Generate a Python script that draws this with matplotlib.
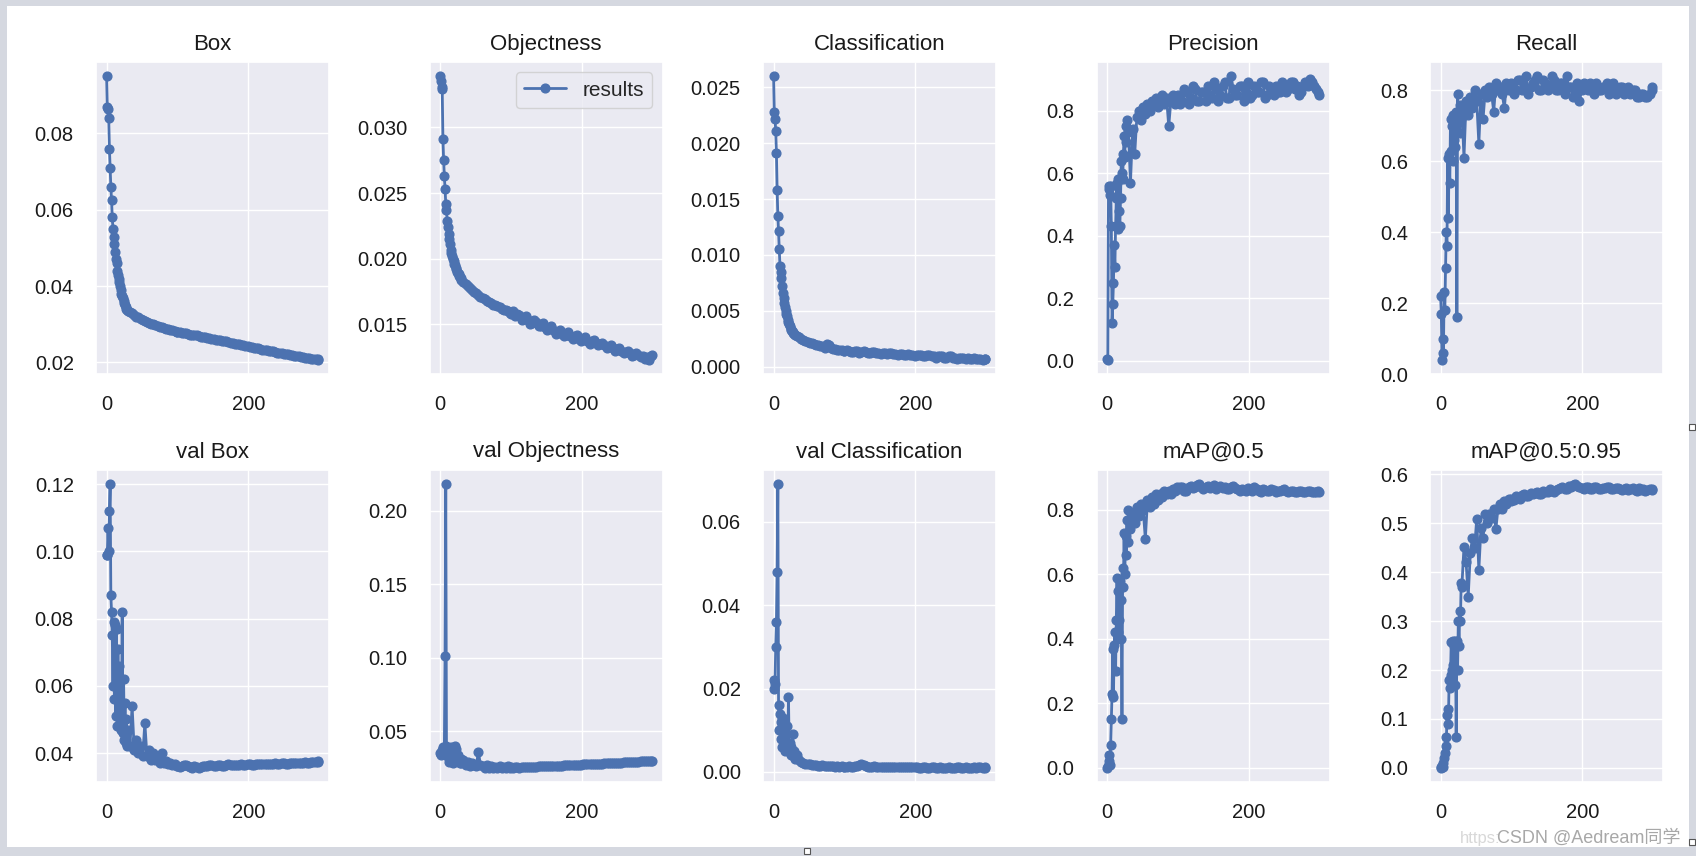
import matplotlib.pyplot as plt
import seaborn as sns
from matplotlib.patches import Rectangle

# --- settings ---
sns.set_theme(style='darkgrid')
plt.rcParams['font.family'] = ['Liberation Sans', 'DejaVu Sans']

W, H = 1696, 856
BLUE = '#4c72b0'

# --- data ---
epoch = [0, 1, 2, 3, 4, 5, 6, 7, 8, 9,
         10, 11, 12, 13, 14, 15, 16, 17, 18, 19,
         20, 21, 22, 23, 24, 25, 26, 27, 28, 29,
         30, 33, 36, 39, 42, 45, 48, 51, 54, 57,
         60, 63, 66, 69, 72, 75, 78, 81, 84, 87,
         90, 93, 96, 99,
         100, 103, 106, 109, 112, 115, 118, 121, 124, 127,
         130, 133, 136, 139, 142, 145, 148, 151, 154, 157,
         160, 163, 166, 169, 172, 175, 178, 181, 184, 187,
         190, 193, 196, 199, 202, 205, 208, 211, 214, 217,
         220, 223, 226, 229, 232, 235, 238, 241, 244, 247,
         250, 253, 256, 259, 262, 265, 268, 271, 274, 277,
         280, 283, 286, 289, 292, 295, 298, 299]

box = [0.095, 0.087, 0.0865, 0.084, 0.076, 0.071, 0.066, 0.0625, 0.058, 0.055,
       0.053, 0.051, 0.049, 0.047, 0.046, 0.044, 0.043, 0.042, 0.041, 0.040,
       0.039, 0.038, 0.0375, 0.037, 0.0362, 0.0355, 0.035, 0.0345, 0.034, 0.0337,
       0.0335, 0.0332, 0.033, 0.0325, 0.032, 0.0318, 0.0315, 0.031, 0.0308, 0.0306,
       0.0304, 0.0302, 0.030, 0.0298, 0.0296, 0.0294, 0.0292, 0.029, 0.0289, 0.0287,
       0.0285, 0.0284, 0.0282, 0.028,
       0.0280, 0.0281, 0.0278, 0.0276, 0.0276, 0.0275, 0.0273, 0.0273, 0.0271, 0.0271,
       0.0269, 0.0268, 0.0267, 0.0266, 0.0264, 0.0264, 0.0262, 0.0262, 0.0260, 0.0259,
       0.0258, 0.0257, 0.0255, 0.0255, 0.0253, 0.0252, 0.0251, 0.0249, 0.0248, 0.0248,
       0.0246, 0.0245, 0.0244, 0.0243, 0.0241, 0.0241, 0.0239, 0.0238, 0.0237, 0.0235,
       0.0234, 0.0234, 0.0232, 0.0231, 0.0230, 0.0229, 0.0228, 0.0226, 0.0225, 0.0225,
       0.0223, 0.0222, 0.0221, 0.0220, 0.0219, 0.0218, 0.0217, 0.0216, 0.0215, 0.0214,
       0.0213, 0.0212, 0.0211, 0.0210, 0.0209, 0.0209, 0.0208, 0.0207]

objectness = [0.0339, 0.0335, 0.0331, 0.0329, 0.0291, 0.0275, 0.0263, 0.0253, 0.0242, 0.0237,
              0.0229, 0.0224, 0.0219, 0.0215, 0.0211, 0.0207, 0.0204, 0.0202, 0.0200, 0.0198,
              0.0196, 0.0195, 0.0193, 0.0192, 0.0190, 0.0189, 0.0188, 0.0187, 0.0186, 0.0185,
              0.0184, 0.0182, 0.0181, 0.0179, 0.0178, 0.0176, 0.0175, 0.0174, 0.0172, 0.0171,
              0.0170, 0.0169, 0.0168, 0.0167, 0.0166, 0.0165, 0.0165, 0.0164, 0.0163, 0.0162,
              0.0161, 0.0161, 0.0160, 0.0159,
              0.0158, 0.0160, 0.0156, 0.0158, 0.0157, 0.0153, 0.0154, 0.0156, 0.0153, 0.0150,
              0.0151, 0.0153, 0.0152, 0.0149, 0.0149, 0.0151, 0.0148, 0.0146, 0.0147, 0.0149,
              0.0146, 0.0143, 0.0144, 0.0146, 0.0143, 0.0141, 0.0142, 0.0144, 0.0141, 0.0139,
              0.0141, 0.0142, 0.0139, 0.0137, 0.0139, 0.0140, 0.0137, 0.0135, 0.0137, 0.0138,
              0.0136, 0.0134, 0.0135, 0.0136, 0.0134, 0.0132, 0.0133, 0.0134, 0.0132, 0.0130,
              0.0131, 0.0132, 0.0130, 0.0128, 0.0129, 0.0130, 0.0128, 0.0126, 0.0127, 0.0128,
              0.0127, 0.0125, 0.0126, 0.0124, 0.0125, 0.0123, 0.0126, 0.0127]

classification = [0.0260, 0.0228, 0.0222, 0.0211, 0.0191, 0.0158, 0.0135, 0.0121, 0.0105, 0.0090,
                  0.0085, 0.0079, 0.0072, 0.0066, 0.0061, 0.0057, 0.0053, 0.0050, 0.0047, 0.0045,
                  0.0042, 0.0040, 0.0038, 0.0036, 0.0034, 0.0033, 0.0032, 0.0031, 0.0030, 0.0029,
                  0.0028, 0.0027, 0.0026, 0.0025, 0.0024, 0.0023, 0.0022, 0.0021, 0.0021, 0.0020,
                  0.0019, 0.0019, 0.0018, 0.0018, 0.0017, 0.0020, 0.0019, 0.0017, 0.0016, 0.0016,
                  0.0015, 0.0015, 0.0015, 0.0014,
                  0.0014, 0.0015, 0.0014, 0.0013, 0.0013, 0.0014, 0.0014, 0.0012, 0.0013, 0.0014,
                  0.0013, 0.0012, 0.0012, 0.0013, 0.0013, 0.0012, 0.0012, 0.0011, 0.0012, 0.0012,
                  0.0011, 0.0012, 0.0012, 0.0011, 0.0011, 0.0010, 0.0011, 0.0011, 0.0010, 0.0010,
                  0.0011, 0.0010, 0.0010, 0.0009, 0.0010, 0.0010, 0.0010, 0.0009, 0.0009, 0.0010,
                  0.0010, 0.0009, 0.0009, 0.0008, 0.0009, 0.0009, 0.0009, 0.0008, 0.0008, 0.0009,
                  0.0009, 0.0008, 0.0008, 0.0007, 0.0008, 0.0008, 0.0008, 0.0007, 0.0008, 0.0007,
                  0.0007, 0.0008, 0.0007, 0.0007, 0.0007, 0.0006, 0.0007, 0.0007]

precision = [0.005, 0.003, 0.56, 0.55, 0.53, 0.56, 0.43, 0.12, 0.18, 0.25,
             0.37, 0.30, 0.43, 0.52, 0.57, 0.42, 0.58, 0.48, 0.43, 0.52,
             0.64, 0.60, 0.58, 0.66, 0.72, 0.65, 0.75, 0.70, 0.77, 0.73,
             0.74, 0.57, 0.74, 0.66, 0.78, 0.80, 0.77, 0.81, 0.79, 0.82,
             0.80, 0.83, 0.82, 0.84, 0.81, 0.83, 0.85, 0.82, 0.84, 0.75,
             0.83, 0.85, 0.82, 0.84,
             0.85, 0.82, 0.83, 0.87, 0.86, 0.82, 0.84, 0.88, 0.87, 0.83,
             0.83, 0.86, 0.86, 0.83, 0.88, 0.85, 0.84, 0.89, 0.87, 0.83,
             0.85, 0.88, 0.89, 0.84, 0.84, 0.91, 0.87, 0.85, 0.85, 0.88,
             0.88, 0.83, 0.86, 0.89, 0.84, 0.85, 0.88, 0.86, 0.86, 0.89,
             0.89, 0.84, 0.85, 0.88, 0.87, 0.85, 0.88, 0.86, 0.86, 0.89,
             0.88, 0.86, 0.87, 0.89, 0.89, 0.87, 0.88, 0.85, 0.86, 0.88,
             0.89, 0.88, 0.90, 0.89, 0.88, 0.87, 0.86, 0.85]

recall = [0.22, 0.17, 0.04, 0.10, 0.06, 0.23, 0.18, 0.30, 0.40, 0.36,
          0.61, 0.44, 0.62, 0.54, 0.72, 0.63, 0.70, 0.60, 0.73, 0.66,
          0.70, 0.64, 0.74, 0.16, 0.79, 0.71, 0.74, 0.68, 0.76, 0.72,
          0.75, 0.61, 0.77, 0.73, 0.78, 0.75, 0.80, 0.77, 0.65, 0.79,
          0.72, 0.80, 0.78, 0.81, 0.79, 0.74, 0.82, 0.80, 0.81, 0.79,
          0.75, 0.82, 0.80, 0.81,
          0.82, 0.79, 0.80, 0.83, 0.83, 0.80, 0.81, 0.84, 0.79, 0.81,
          0.82, 0.83, 0.84, 0.80, 0.80, 0.83, 0.82, 0.80, 0.81, 0.84,
          0.83, 0.80, 0.80, 0.82, 0.82, 0.79, 0.84, 0.81, 0.81, 0.78,
          0.79, 0.82, 0.77, 0.80, 0.82, 0.81, 0.80, 0.82, 0.81, 0.79,
          0.82, 0.80, 0.80, 0.81, 0.81, 0.82, 0.79, 0.80, 0.82, 0.79,
          0.80, 0.81, 0.81, 0.79, 0.80, 0.81, 0.79, 0.80, 0.80, 0.78,
          0.78, 0.79, 0.79, 0.78, 0.78, 0.79, 0.80, 0.81]

val_box = [0.099, 0.099, 0.107, 0.100, 0.112, 0.120, 0.087, 0.082, 0.075, 0.060,
           0.079, 0.056, 0.078, 0.051, 0.077, 0.048, 0.071, 0.052, 0.066, 0.050,
           0.062, 0.047, 0.082, 0.046, 0.062, 0.044, 0.055, 0.043, 0.050, 0.042,
           0.047, 0.042, 0.054, 0.041, 0.044, 0.040, 0.042, 0.039, 0.049, 0.039,
           0.041, 0.038, 0.040, 0.038, 0.039, 0.037, 0.040, 0.037, 0.0375, 0.0368,
           0.037, 0.0365, 0.0368, 0.0362,
           0.0362, 0.0359, 0.0360, 0.0363, 0.0365, 0.0361, 0.0358, 0.0356, 0.0360, 0.0357,
           0.0356, 0.0359, 0.0362, 0.0360, 0.0360, 0.0363, 0.0363, 0.0360, 0.0361, 0.0363,
           0.0364, 0.0362, 0.0362, 0.0364, 0.0366, 0.0363, 0.0363, 0.0365, 0.0365, 0.0364,
           0.0366, 0.0364, 0.0364, 0.0366, 0.0367, 0.0365, 0.0365, 0.0367, 0.0368, 0.0366,
           0.0366, 0.0367, 0.0368, 0.0366, 0.0367, 0.0368, 0.0369, 0.0367, 0.0367, 0.0369,
           0.0370, 0.0368, 0.0368, 0.0369, 0.0370, 0.0370, 0.0371, 0.0370, 0.0369, 0.0371,
           0.0372, 0.0371, 0.0371, 0.0372, 0.0373, 0.0373, 0.0374, 0.0375]

val_objectness = [0.035, 0.034, 0.037, 0.036, 0.039, 0.035, 0.038, 0.101, 0.218, 0.040,
                  0.033, 0.036, 0.029, 0.034, 0.031, 0.039, 0.030, 0.035, 0.028, 0.033,
                  0.029, 0.040, 0.031, 0.038, 0.030, 0.034, 0.029, 0.032, 0.028, 0.031,
                  0.028, 0.030, 0.027, 0.029, 0.026, 0.028, 0.027, 0.026, 0.036, 0.027,
                  0.026, 0.025, 0.027, 0.025, 0.026, 0.025, 0.0255, 0.025, 0.026, 0.025,
                  0.0255, 0.025, 0.026, 0.0252,
                  0.0253, 0.0251, 0.0255, 0.0254, 0.0252, 0.0255, 0.0256, 0.0254, 0.0254, 0.0257,
                  0.0258, 0.0256, 0.0257, 0.0259, 0.0260, 0.0259, 0.0259, 0.0261, 0.0262, 0.0262,
                  0.0263, 0.0264, 0.0265, 0.0265, 0.0264, 0.0266, 0.0267, 0.0267, 0.0268, 0.0269,
                  0.0270, 0.0270, 0.0271, 0.0272, 0.0273, 0.0273, 0.0274, 0.0275, 0.0276, 0.0276,
                  0.0277, 0.0278, 0.0279, 0.0279, 0.0280, 0.0281, 0.0282, 0.0282, 0.0283, 0.0284,
                  0.0285, 0.0285, 0.0286, 0.0287, 0.0288, 0.0288, 0.0289, 0.0290, 0.0291, 0.0291,
                  0.0292, 0.0293, 0.0294, 0.0294, 0.0295, 0.0296, 0.0296, 0.0297]

val_classification = [0.022, 0.020, 0.021, 0.030, 0.036, 0.048, 0.069, 0.016, 0.010, 0.014,
                      0.008, 0.012, 0.006, 0.013, 0.007, 0.010, 0.005, 0.009, 0.006, 0.011,
                      0.005, 0.018, 0.006, 0.007, 0.004, 0.006, 0.004, 0.009, 0.004, 0.005,
                      0.003, 0.004, 0.0028, 0.0025, 0.0022, 0.0020, 0.0019, 0.0018, 0.0017, 0.0016,
                      0.0016, 0.0015, 0.0015, 0.0016, 0.0014, 0.0015, 0.0014, 0.0015, 0.0014, 0.0013,
                      0.0014, 0.0013, 0.0014, 0.0013,
                      0.0013, 0.0012, 0.0014, 0.0013, 0.0013, 0.0014, 0.0015, 0.0017, 0.0019, 0.0016,
                      0.0014, 0.0013, 0.0013, 0.0012, 0.0014, 0.0013, 0.0012, 0.0013, 0.0013, 0.0012,
                      0.0012, 0.0013, 0.0013, 0.0012, 0.0012, 0.0011, 0.0011, 0.0012, 0.0012, 0.0011,
                      0.0011, 0.0012, 0.0012, 0.0011, 0.0011, 0.0010, 0.0010, 0.0011, 0.0011, 0.0010,
                      0.0010, 0.0011, 0.0011, 0.0010, 0.0010, 0.0011, 0.0010, 0.0010, 0.0010, 0.0011,
                      0.0010, 0.0010, 0.0010, 0.0011, 0.0011, 0.0010, 0.0010, 0.0011, 0.0010, 0.0010,
                      0.0010, 0.0011, 0.0010, 0.0011, 0.0011, 0.0010, 0.0010, 0.0011]

map50 = [0.0, 0.005, 0.02, 0.04, 0.01, 0.07, 0.15, 0.23, 0.37, 0.22,
         0.38, 0.42, 0.30, 0.46, 0.59, 0.42, 0.55, 0.46, 0.58, 0.40,
         0.52, 0.15, 0.62, 0.56, 0.73, 0.60, 0.72, 0.66, 0.77, 0.70,
         0.80, 0.74, 0.79, 0.76, 0.81, 0.78, 0.82, 0.80, 0.71, 0.83,
         0.81, 0.84, 0.82, 0.85, 0.83, 0.85, 0.84, 0.86, 0.85, 0.86,
         0.85, 0.865, 0.86, 0.87,
         0.865, 0.870, 0.870, 0.860, 0.860, 0.872, 0.875, 0.868, 0.870, 0.878,
         0.880, 0.872, 0.865, 0.870, 0.875, 0.868, 0.870, 0.876, 0.865, 0.872,
         0.875, 0.868, 0.870, 0.866, 0.865, 0.870, 0.875, 0.868, 0.865, 0.860,
         0.865, 0.862, 0.860, 0.868, 0.865, 0.860, 0.870, 0.864, 0.860, 0.856,
         0.865, 0.862, 0.860, 0.858, 0.865, 0.862, 0.855, 0.858, 0.860, 0.862,
         0.865, 0.860, 0.855, 0.858, 0.860, 0.857, 0.855, 0.858, 0.860, 0.856,
         0.855, 0.858, 0.860, 0.856, 0.855, 0.857, 0.858, 0.857]

map50_95 = [0.0, 0.001, 0.003, 0.01, 0.002, 0.02, 0.03, 0.063, 0.045, 0.109,
            0.12, 0.09, 0.18, 0.164, 0.19, 0.257, 0.20, 0.26, 0.21, 0.25,
            0.17, 0.26, 0.063, 0.26, 0.20, 0.30, 0.25, 0.32, 0.30, 0.377,
            0.37, 0.452, 0.42, 0.35, 0.44, 0.47, 0.45, 0.509, 0.405, 0.49,
            0.47, 0.52, 0.50, 0.52, 0.51, 0.53, 0.488, 0.53, 0.54, 0.53,
            0.545, 0.54, 0.55, 0.545,
            0.550, 0.548, 0.555, 0.552, 0.550, 0.557, 0.560, 0.556, 0.555, 0.561,
            0.560, 0.562, 0.565, 0.560, 0.560, 0.566, 0.565, 0.564, 0.570, 0.566,
            0.565, 0.568, 0.570, 0.572, 0.575, 0.570, 0.570, 0.576, 0.575, 0.578,
            0.580, 0.576, 0.575, 0.573, 0.570, 0.574, 0.575, 0.571, 0.570, 0.574,
            0.575, 0.571, 0.570, 0.573, 0.572, 0.574, 0.575, 0.570, 0.570, 0.572,
            0.572, 0.570, 0.568, 0.571, 0.572, 0.569, 0.570, 0.573, 0.568, 0.567,
            0.572, 0.569, 0.570, 0.567, 0.568, 0.570, 0.570, 0.569]

titles = ['Box', 'Objectness', 'Classification', 'Precision', 'Recall',
          'val Box', 'val Objectness', 'val Classification', 'mAP@0.5', 'mAP@0.5:0.95']
series = [box, objectness, classification, precision, recall,
          val_box, val_objectness, val_classification, map50, map50_95]

# --- figure ---
fig = plt.figure(figsize=(W / 100, H / 100), dpi=100, facecolor='#d5d8e0')
# white sheet of the screenshot
fig.add_artist(Rectangle((7 / W, 1 - 847 / H), (1689 - 7) / W, (847 - 6) / H,
                         transform=fig.transFigure, facecolor='white',
                         edgecolor='none', zorder=0))

lefts_px = [96, 429.5, 763, 1096.5, 1430]
ax_w = 233 / W
rows = [(1 - 374 / H, 312 / H), (1 - 782 / H, 312 / H)]

for i, (title, y) in enumerate(zip(titles, series)):
    r, c = divmod(i, 5)
    ax = fig.add_axes([lefts_px[c] / W, rows[r][0], ax_w, rows[r][1]])
    ax.plot(epoch, y, marker='o', color=BLUE, linewidth=2, markersize=6.3, label='results')
    ax.set_title(title, fontsize=16, pad=9, color='#1a1a1a')
    ax.set_xticks([0, 200])
    ax.tick_params(axis='both', length=0, labelsize=14.5, colors='#1a1a1a')
    ax.tick_params(axis='x', pad=15)
    ax.tick_params(axis='y', pad=16)
    if i == 1:
        ax.legend(loc='upper right', fontsize=15, frameon=True, edgecolor='#cccccc')

# watermark
fig.text(1460 / W, 1 - 838 / H, 'https:', fontsize=12,
         color='#d8d8d8', ha='left', va='center')
fig.text(1680 / W, 1 - 838 / H, 'CSDN @Aedream同学', fontsize=13, color='#a8a8a8',
         ha='right', va='center', family=['Liberation Sans', 'Noto Sans CJK SC'])

# small window handles of the screenshot
for hx, hy in [(807, 851), (1692, 427), (1692, 842)]:
    fig.add_artist(Rectangle(((hx - 3) / W, 1 - (hy + 3) / H), 6 / W, 6 / H,
                             transform=fig.transFigure, facecolor='white',
                             edgecolor='#555555', linewidth=0.8))

plt.savefig('out.png', dpi=100, facecolor=fig.get_facecolor())
